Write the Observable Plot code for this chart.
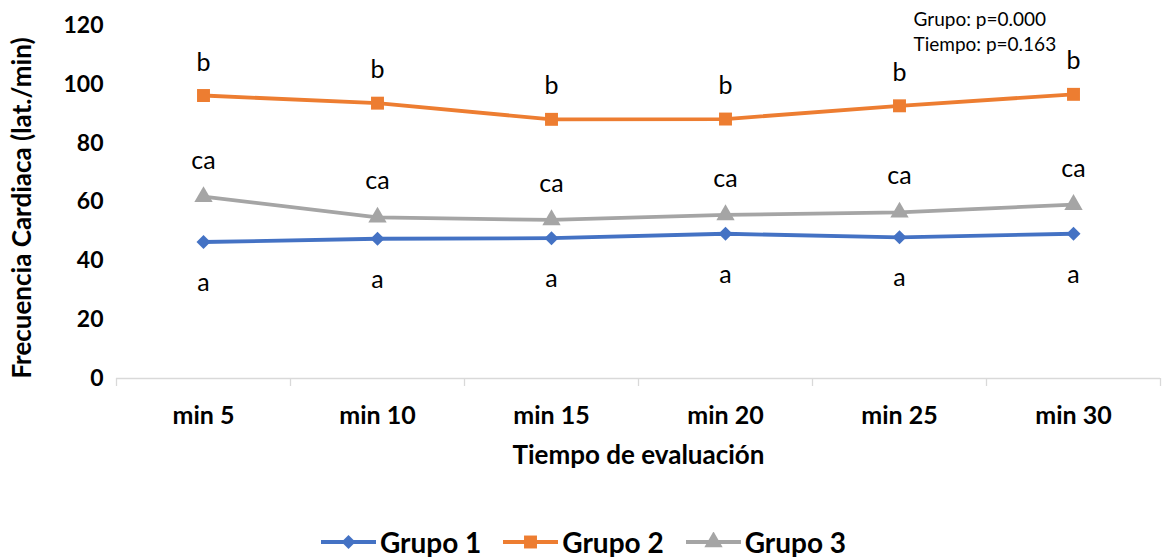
<!DOCTYPE html>
<html>
<head>
<meta charset="utf-8">
<script src="https://cdn.jsdelivr.net/npm/d3@7"></script>
<script src="https://cdn.jsdelivr.net/npm/@observablehq/plot@0.6"></script>
<style>
  html, body { margin: 0; padding: 0; background: #fff; }
  body { width: 1165px; height: 557px; overflow: hidden; font-family: Lato, "Liberation Sans", sans-serif; }
  #legend { display: flex; justify-content: center; align-items: center; height: 37px; padding-top: 11px; padding-left: 2px; gap: 22px; }
  .item { display: flex; align-items: center; font-weight: bold; font-size: 28px; color: #000; }
  .item svg { margin-right: 4px; }
</style>
</head>
<body>
<div id="chart"></div>
<div id="legend"></div>
<script>
// Heart rate by group over the evaluation period
const categories = ["min 5", "min 10", "min 15", "min 20", "min 25", "min 30"];
const grupo1 = [46.4, 47.5, 47.7, 49.2, 48.0, 49.2];
const grupo2 = [96.2, 93.6, 88.1, 88.2, 92.7, 96.6];
const grupo3 = [61.8, 54.8, 53.9, 55.6, 56.5, 59.1];
const letras1 = ["a", "a", "a", "a", "a", "a"];
const letras2 = ["b", "b", "b", "b", "b", "b"];
const letras3 = ["ca", "ca", "ca", "ca", "ca", "ca"];
const yTicks = [0, 20, 40, 60, 80, 100, 120];
const seriesNames = ["Grupo 1", "Grupo 2", "Grupo 3"];
const seriesColors = ["#4472C4", "#ED7D31", "#A5A5A5"];
const seriesSymbols = ["diamond2", "square", "triangle"];
const statsText = "Grupo: p=0.000\nTiempo: p=0.163";

// Each category sits in the middle of its slot: index + 0.5
const rows = [];
[grupo1, grupo2, grupo3].forEach((vals, s) => {
  const letters = [letras1, letras2, letras3][s];
  vals.forEach((v, i) => rows.push({serie: seriesNames[s], pos: i + 0.5, cat: categories[i], value: v, letter: letters[i]}));
});
const bySerie = name => rows.filter(d => d.serie === name);

const font = "Lato, 'Liberation Sans', sans-serif";
const markerR = [6.3, 7.3, 6.8];

const chart = Plot.plot({
  width: 1165,
  height: 512,
  marginLeft: 116,
  marginRight: 5,
  marginTop: 25,
  marginBottom: 134,
  style: {fontFamily: font, background: "#fff", color: "#000", overflow: "visible"},
  x: {domain: [0, categories.length]},
  y: {domain: [0, 120]},
  marks: [
    // y axis: labels only
    Plot.axisY({ticks: yTicks, tickSize: 0, tickPadding: 13, fontSize: 23, fontWeight: "bold", label: null}),
    Plot.text(["Frecuencia Cardiaca (lat./min)"], {frameAnchor: "left", dx: -94, dy: 6, rotate: -90, textAnchor: "middle", lineAnchor: "middle", fontSize: 26, fontWeight: "bold"}),
    // x axis: gray baseline with ticks between categories, labels centred in slots
    Plot.ruleY([0], {stroke: "#d9d9d9", strokeWidth: 1.3}),
    Plot.axisX({ticks: d3.range(0, categories.length + 1), tickSize: 8, tickFormat: () => "", stroke: "#d9d9d9", strokeWidth: 1.3, label: null}),
    Plot.axisX({ticks: categories.map((c, i) => i + 0.5), tickSize: 0, tickPadding: 28, tickFormat: d => categories[Math.floor(d)], fontSize: 25, fontWeight: "bold", label: null}),
    Plot.text(["Tiempo de evaluación"], {frameAnchor: "bottom", dy: 77, lineAnchor: "middle", fontSize: 26, fontWeight: "bold"}),
    // series lines and markers
    ...seriesNames.map((name, s) => Plot.line(bySerie(name), {x: "pos", y: "value", stroke: seriesColors[s], strokeWidth: 3.8})),
    ...seriesNames.map((name, s) => Plot.dot(bySerie(name), {
      x: "pos", y: "value", fill: seriesColors[s], stroke: "none",
      symbol: () => seriesSymbols[s],
      r: markerR[s]
    })),
    // significance letters
    Plot.text(bySerie("Grupo 2"), {x: "pos", y: "value", text: "letter", dy: -33, fontSize: 25}),
    Plot.text(bySerie("Grupo 3"), {x: "pos", y: "value", text: "letter", dy: -36, fontSize: 25}),
    Plot.text(bySerie("Grupo 1"), {x: "pos", y: "value", text: "letter", dy: 41, fontSize: 25}),
    // p-values box
    Plot.text([statsText], {frameAnchor: "top-left", dx: 797, dy: -17, lineAnchor: "top", textAnchor: "start", fontSize: 19, lineHeight: 1.32})
  ]
});
document.getElementById("chart").appendChild(chart);

// Legend: line swatch with marker
const legend = d3.select("#legend");
seriesNames.forEach((name, s) => {
  const item = legend.append("div").attr("class", "item");
  const svg = item.append("svg").attr("width", 55).attr("height", 20);
  svg.append("line").attr("x1", 0).attr("x2", 55).attr("y1", 10).attr("y2", 10)
    .attr("stroke", seriesColors[s]).attr("stroke-width", 3.8);
  const sym = {diamond2: d3.symbolDiamond2, square: d3.symbolSquare, triangle: d3.symbolTriangle}[seriesSymbols[s]];
  svg.append("path").attr("transform", "translate(27.5,10)")
    .attr("d", d3.symbol(sym, Math.PI * markerR[s] * markerR[s])()).attr("fill", seriesColors[s]);
  item.append("span").text(name);
});
</script>
</body>
</html>
